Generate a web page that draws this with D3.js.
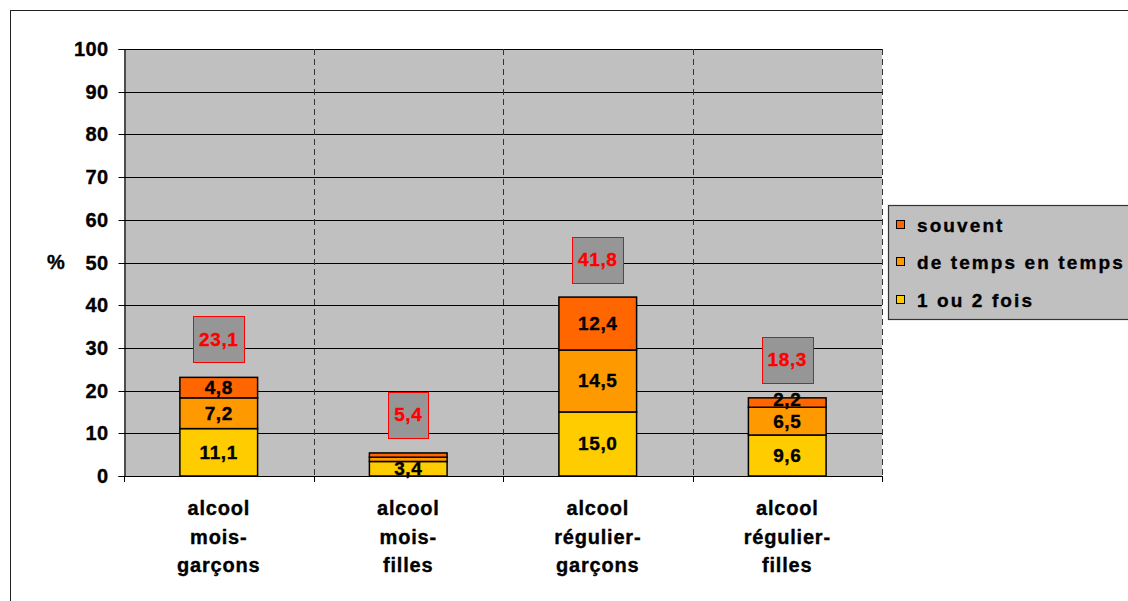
<!DOCTYPE html>
<html>
<head>
<meta charset="utf-8">
<script src="https://cdn.jsdelivr.net/npm/d3@7"></script>
<style>
  html, body { margin: 0; padding: 0; background: #ffffff; }
  svg { display: block; }
  text { font-family: "Liberation Sans", Arial, sans-serif; font-weight: bold; }
</style>
</head>
<body>
<svg id="chart" width="1128" height="601"></svg>
<script>
// Catégories (libellés sur plusieurs lignes)
const categories = ["alcool mois-garçons", "alcool mois-filles", "alcool régulier-garçons", "alcool régulier-filles"];
const categoryLines = [
  ["alcool", "mois-", "garçons"],
  ["alcool", "mois-", "filles"],
  ["alcool", "régulier-", "garçons"],
  ["alcool", "régulier-", "filles"]
];
// Séries empilées (%)
const seriesNames = ["1 ou 2 fois", "de temps en temps", "souvent"];
const unDeuxFois = [11.1, 3.4, 15.0, 9.6];
const deTempsEnTemps = [7.2, 1.0, 14.5, 6.5];
const souvent = [4.8, 1.0, 12.4, 2.2];
// Totaux affichés au-dessus des barres
const totals = [23.1, 5.4, 41.8, 18.3];
const yTicks = [0, 10, 20, 30, 40, 50, 60, 70, 80, 90, 100];

const colors = {
  "1 ou 2 fois": "#FFCC00",
  "de temps en temps": "#FF9900",
  "souvent": "#FF6600"
};

const svg = d3.select("#chart");

// Léger épaississement des caractères gras
const heavy = sel => sel.attr("stroke", function () { return d3.select(this).attr("fill"); })
  .attr("stroke-width", 0.35);

// Cadre extérieur du graphique
svg.append("rect")
  .attr("x", 10.5).attr("y", 10.5)
  .attr("width", 1140).attr("height", 620)
  .attr("fill", "#ffffff").attr("stroke", "#222").attr("stroke-width", 1);

const plot = { left: 124, right: 882, top: 49, bottom: 476 };

const x = d3.scaleBand()
  .domain(categories)
  .range([plot.left, plot.right])
  .paddingInner(0.59)
  .paddingOuter(0.295);

const y = d3.scaleLinear().domain([0, 100]).range([plot.bottom, plot.top]);

// Zone de tracé
svg.append("rect")
  .attr("x", plot.left).attr("y", plot.top)
  .attr("width", plot.right - plot.left).attr("height", plot.bottom - plot.top)
  .attr("fill", "#C0C0C0");

// Quadrillage horizontal
svg.append("g")
  .selectAll("line")
  .data(yTicks.filter(d => d > 0))
  .join("line")
  .attr("x1", plot.left).attr("x2", plot.right)
  .attr("y1", d => Math.round(y(d)) + 0.5).attr("y2", d => Math.round(y(d)) + 0.5)
  .attr("stroke", "#000").attr("stroke-width", 1);

// Séparateurs verticaux entre catégories (pointillés)
const step = x.step();
const boundaries = d3.range(1, categories.length + 1).map(i => plot.left + i * step);
svg.append("g")
  .selectAll("line")
  .data(boundaries)
  .join("line")
  .attr("x1", d => Math.round(d) + 0.5).attr("x2", d => Math.round(d) + 0.5)
  .attr("y1", plot.top).attr("y2", plot.bottom)
  .attr("stroke", "#333").attr("stroke-width", 1)
  .attr("stroke-dasharray", "6,4");

// Axe Y
const yAxis = d3.axisLeft(y).tickValues(yTicks).tickSize(6).tickPadding(10);
const gy = svg.append("g")
  .attr("transform", `translate(${plot.left + 0.5},0)`)
  .call(yAxis);
gy.select(".domain").attr("stroke", "#000").attr("stroke-width", 1.2);
gy.selectAll(".tick line").attr("stroke", "#000");
gy.selectAll(".tick text")
  .attr("font-size", 20).attr("fill", "#000")
  .attr("letter-spacing", 0.4)
  .style("font-family", "'Liberation Sans', Arial, sans-serif")
  .style("font-weight", "bold")
  .call(heavy);
gy.selectAll(".tick").attr("transform", d => `translate(0,${Math.round(y(d)) + 0.5})`);

svg.append("text")
  .attr("x", 56).attr("y", 262)
  .attr("text-anchor", "middle").attr("dominant-baseline", "central")
  .attr("font-size", 20).attr("fill", "#000")
  .text("%")
  .call(heavy);

// Axe X
const gx = svg.append("g");
gx.append("line")
  .attr("x1", plot.left).attr("x2", plot.right)
  .attr("y1", plot.bottom + 0.5).attr("y2", plot.bottom + 0.5)
  .attr("stroke", "#000").attr("stroke-width", 1.2);
gx.selectAll("line.tk")
  .data([plot.left, ...boundaries])
  .join("line")
  .attr("class", "tk")
  .attr("x1", d => Math.round(d) + 0.5).attr("x2", d => Math.round(d) + 0.5)
  .attr("y1", plot.bottom).attr("y2", plot.bottom + 6)
  .attr("stroke", "#000");

// Libellés des catégories
categories.forEach((c, i) => {
  const t = svg.append("text")
    .attr("x", x(c) + x.bandwidth() / 2)
    .attr("y", 515)
    .attr("text-anchor", "middle")
    .attr("font-size", 20)
    .attr("letter-spacing", 0.8)
    .attr("fill", "#000")
    .call(heavy);
  categoryLines[i].forEach((ln, j) => {
    t.append("tspan")
      .attr("x", x(c) + x.bandwidth() / 2)
      .attr("dy", j === 0 ? 0 : 28.5)
      .text(ln);
  });
});

// Barres empilées
const rows = categories.map((c, i) => ({
  cat: c,
  "1 ou 2 fois": unDeuxFois[i],
  "de temps en temps": deTempsEnTemps[i],
  "souvent": souvent[i]
}));
const stacked = d3.stack().keys(seriesNames)(rows);

const layers = svg.append("g")
  .selectAll("g")
  .data(stacked)
  .join("g")
  .attr("fill", d => colors[d.key]);

layers.selectAll("rect")
  .data(d => d)
  .join("rect")
  .attr("x", d => x(d.data.cat))
  .attr("y", d => y(d[1]))
  .attr("width", x.bandwidth())
  .attr("height", d => y(d[0]) - y(d[1]))
  .attr("stroke", "#000").attr("stroke-width", 1.5);

// Valeurs des segments (les segments trop fins ne sont pas étiquetés)
const labels = svg.append("g");
stacked.forEach(layer => {
  labels.selectAll(null)
    .data(layer.filter(d => (d[1] - d[0]) >= 2))
    .join("text")
    .attr("x", d => x(d.data.cat) + x.bandwidth() / 2)
    .attr("y", d => {
      const h = y(d[0]) - y(d[1]);
      return (y(d[0]) + y(d[1])) / 2 - (h < 14 ? 3 : 0);
    })
    .attr("text-anchor", "middle")
    .attr("dominant-baseline", "central")
    .attr("font-size", 19)
    .attr("letter-spacing", 0.6)
    .attr("fill", "#000")
    .text(d => d3.format(".1f")(d[1] - d[0]).replace(".", ","))
    .call(heavy);
});

// Totaux (étiquettes encadrées)
const fmt = v => d3.format(".1f")(v).replace(".", ",");
categories.forEach((c, i) => {
  const cx = x(c) + x.bandwidth() / 2;
  const bottom = y(totals[i]) - 15;
  const g = svg.append("g");
  const t = g.append("text")
    .attr("x", cx).attr("y", bottom - 23)
    .attr("text-anchor", "middle").attr("dominant-baseline", "central")
    .attr("font-size", 19).attr("letter-spacing", 0.6)
    .attr("fill", "#FF0000")
    .text(fmt(totals[i]))
    .call(heavy);
  const w = t.node().getComputedTextLength() + 12;
  g.insert("rect", "text")
    .attr("x", Math.round(cx - w / 2) + 0.5).attr("y", Math.round(bottom - 46) + 0.5)
    .attr("width", Math.round(w)).attr("height", 46)
    .attr("fill", "#969696").attr("stroke", "#FF0000").attr("stroke-width", 1);
});

// Légende
const legend = svg.append("g");
legend.append("rect")
  .attr("x", 888.5).attr("y", 205.5)
  .attr("width", 260).attr("height", 114)
  .attr("fill", "#C0C0C0").attr("stroke", "#333").attr("stroke-width", 1.2);
const legendOrder = ["souvent", "de temps en temps", "1 ou 2 fois"];
const legendY = [225, 262, 300];
legendOrder.forEach((k, i) => {
  legend.append("rect")
    .attr("x", 896.5).attr("y", legendY[i] - 4.5)
    .attr("width", 8).attr("height", 8)
    .attr("fill", colors[k]).attr("stroke", "#000").attr("stroke-width", 1);
  legend.append("text")
    .attr("x", 917).attr("y", legendY[i])
    .attr("dominant-baseline", "central")
    .attr("font-size", 19).attr("letter-spacing", 2.1)
    .attr("fill", "#000")
    .text(k)
    .call(heavy);
});
</script>
</body>
</html>
